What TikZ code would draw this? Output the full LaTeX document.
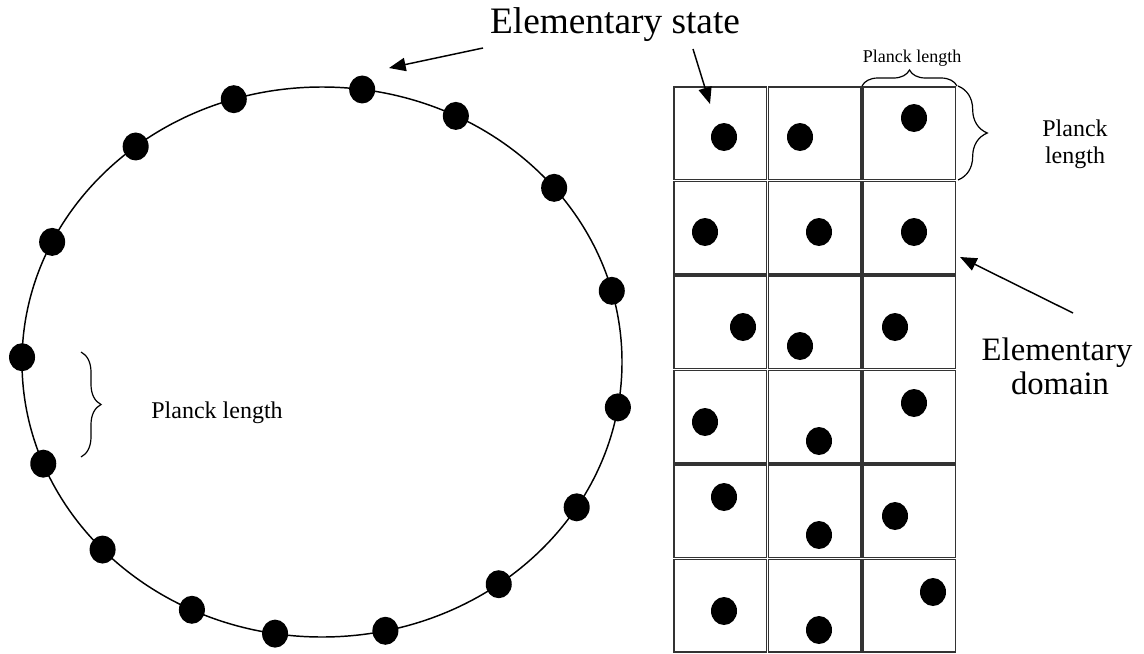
\documentclass[tikz,border=0pt]{standalone}
\usepackage{fontspec}
\setmainfont{Liberation Serif}
\usetikzlibrary{arrows.meta,shapes.geometric,decorations.pathreplacing}
\tikzset{
  dot/.style={ellipse,fill=black,draw=none,inner sep=0pt,minimum width=19.5pt,minimum height=21pt},
  cell/.style={draw=black!80,line width=1.3pt},
  pointer/.style={draw=black,line width=1.1pt,-{Triangle[length=12.5pt,width=10pt]}},
  bigtxt/.style={font=\fontsize{28}{32}\selectfont,inner sep=0pt},
  midtxt/.style={font=\fontsize{24.5}{26}\selectfont,inner sep=0pt,align=center},
  smalltxt/.style={font=\fontsize{13.5}{21}\selectfont,inner sep=0pt,align=center},
  brc/.style={draw=black,line width=0.9pt,decorate,decoration={brace,amplitude=#1}}
}
\begin{document}
\begin{tikzpicture}[x=0.75pt,y=-0.75pt]
\useasboundingbox (0,0) rectangle (1144,653);
% ring
\draw[line width=1.1pt] (322,362) ellipse [x radius=300, y radius=275];
\foreach \t [count=\i] in {-82.3,-107.1,-63.5,-128.4,-39.3,-154.1,-15,-179,9.5,158.3,31.9,137,53.9,115.7,99,77.8}
  \node[dot] (d\i) at ({322+300*cos(\t)},{362+275*sin(\t)}) {};
% grid
\foreach \c [count=\ci] in {673,767.5,862}
  \foreach \r [count=\ri] in {86,180.5,275,369.5,464,558.5}
    \draw[cell] (\c+1,\r+1) rectangle (\c+94.5-1,\r+94.5-1);
\foreach \x/\y [count=\k] in {724/137,800/137,914/118,
  705/232,819/232,914/232,
  743/327,800/346,895/327,
  705/422,819/441,914/403,
  724/497,819/535,895/516,
  724/611,819/630,933/592}
  \node[dot] (g\k) at (\x,\y) {};
% braces
\coordinate (tb1) at (862,86); \coordinate (tb2) at (957,86);
\draw[brc=12pt] (tb1) -- (tb2);
\coordinate (rb1) at (958,86); \coordinate (rb2) at (958,180);
\draw[brc=22pt] (rb1) -- (rb2);
\coordinate (lb1) at (81,352); \coordinate (lb2) at (81,457);
\draw[brc=15pt] (lb1) -- (lb2);
% texts
\node[bigtxt,anchor=base] (es) at (615,33) {Elementary state};
\node[midtxt,anchor=base] (ed1) at (1057,360) {Elementary};
\node[midtxt,anchor=base] (ed2) at (1060,394) {domain};
\node[smalltxt,anchor=base] (pt) at (912,62) {Planck length};
\node[font=\fontsize{18}{21}\selectfont,inner sep=0pt,anchor=base] (pr1) at (1075,136) {Planck};
\node[font=\fontsize{18}{21}\selectfont,inner sep=0pt,anchor=base] (pr2) at (1075,163) {length};
\node[font=\fontsize{18}{21}\selectfont,inner sep=0pt,anchor=base] (pl) at (217,418) {Planck length};
% arrows
\coordinate (a1s) at (483,48); \coordinate (a1e) at (389,68);
\draw[pointer] (a1s) -- (a1e);
\coordinate (a2s) at (693,49); \coordinate (a2e) at (710,104);
\draw[pointer] (a2s) -- (a2e);
\coordinate (a3s) at (1073,313); \coordinate (a3e) at (960,257);
\draw[pointer] (a3s) -- (a3e);
\end{tikzpicture}
\end{document}
